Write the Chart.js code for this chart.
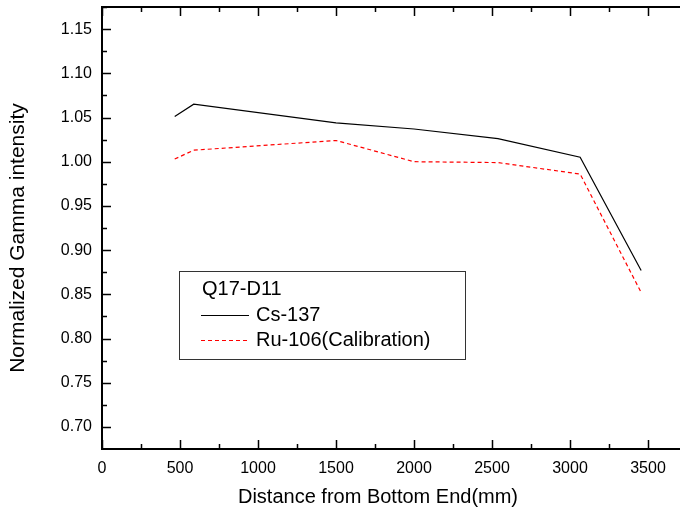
<!DOCTYPE html>
<html>
<head>
<meta charset="utf-8">
<script src="https://cdn.jsdelivr.net/npm/chart.js@4"></script>
<style>
  html, body { margin: 0; padding: 0; background: #fff; }
</style>
</head>
<body>
<canvas id="chart" width="680" height="512"></canvas>
<script>
// distance from bottom end (mm) and normalized intensities
var distance = [466, 588, 1500, 2000, 2538, 3065, 3456];
var cs137 = [1.051, 1.065, 1.044, 1.037, 1.026, 1.005, 0.877];
var ru106 = [1.003, 1.013, 1.024, 1.000, 0.999, 0.986, 0.852];
var xTicks = [0, 500, 1000, 1500, 2000, 2500, 3000, 3500];
var yTicks = [0.70, 0.75, 0.80, 0.85, 0.90, 0.95, 1.00, 1.05, 1.10, 1.15];
var legendTitle = 'Q17-D11';
var xTitle = 'Distance from Bottom End(mm)';
var yTitle = 'Normalized Gamma intensity';

var FONT = 'Liberation Sans, Arial, sans-serif';

function toPoints(xs, ys) {
    return xs.map(function(x, i) { return { x: x, y: ys[i] }; });
}

// inward tick marks on left, bottom and top + top frame line + axis titles
var axisTicks = {
    id: 'axisTicks',
    afterDraw: function(chart) {
        var ctx = chart.ctx, a = chart.chartArea;
        var xs = chart.scales.x, ys = chart.scales.y;
        ctx.save();
        ctx.strokeStyle = '#000';
        ctx.lineWidth = 2;
        ctx.beginPath();
        ctx.moveTo(a.left - 1, a.top);
        ctx.lineTo(a.right, a.top);
        ctx.stroke();
        ctx.lineWidth = 1.5;
        ctx.beginPath();
        xTicks.forEach(function(v) {
            var px = Math.round(xs.getPixelForValue(v)) + 0.5;
            ctx.moveTo(px, a.bottom); ctx.lineTo(px, a.bottom - 9);
            ctx.moveTo(px, a.top); ctx.lineTo(px, a.top + 9);
            var m = v + 250;
            if (m < xs.max) {
                var pm = Math.round(xs.getPixelForValue(m)) + 0.5;
                ctx.moveTo(pm, a.bottom); ctx.lineTo(pm, a.bottom - 5);
                ctx.moveTo(pm, a.top); ctx.lineTo(pm, a.top + 5);
            }
        });
        yTicks.forEach(function(v) {
            var py = Math.round(ys.getPixelForValue(v)) + 0.5;
            ctx.moveTo(a.left, py); ctx.lineTo(a.left + 9, py);
            var m = v + 0.025;
            if (m < ys.max) {
                var pm = Math.round(ys.getPixelForValue(m)) + 0.5;
                ctx.moveTo(a.left, pm); ctx.lineTo(a.left + 5, pm);
            }
        });
        ctx.stroke();

        ctx.fillStyle = '#000';
        ctx.textAlign = 'center';
        ctx.textBaseline = 'middle';
        ctx.font = '20px ' + FONT;
        ctx.fillText(xTitle, 378, 497);
        ctx.font = '21px ' + FONT;
        ctx.translate(18, 238);
        ctx.rotate(-Math.PI / 2);
        ctx.fillText(yTitle, 0, 0);
        ctx.restore();
    }
};

// boxed legend inside the plot
var boxLegend = {
    id: 'boxLegend',
    afterDraw: function(chart) {
        var ctx = chart.ctx;
        var bx = 179, by = 271, bw = 286, bh = 88;
        ctx.save();
        ctx.fillStyle = '#fff';
        ctx.fillRect(bx, by, bw, bh);
        ctx.strokeStyle = '#333';
        ctx.lineWidth = 1;
        ctx.strokeRect(bx + 0.5, by + 0.5, bw, bh);
        ctx.font = '20px ' + FONT;
        ctx.textBaseline = 'middle';
        ctx.fillStyle = '#000';
        ctx.fillText(legendTitle, 202, 289);
        chart.data.datasets.forEach(function(ds, i) {
            var y = 315 + i * 25;
            ctx.strokeStyle = ds.borderColor;
            ctx.lineWidth = ds.borderWidth;
            ctx.setLineDash(ds.borderDash || []);
            ctx.beginPath();
            ctx.moveTo(201, y + 0.5);
            ctx.lineTo(249, y + 0.5);
            ctx.stroke();
            ctx.setLineDash([]);
            ctx.fillStyle = '#000';
            ctx.fillText(ds.label, 256, y);
        });
        ctx.restore();
    }
};

function noPad(s) {
    s.paddingTop = 0; s.paddingBottom = 0;
    s.paddingLeft = 0; s.paddingRight = 0;
}

var ctx = document.getElementById('chart').getContext('2d');
var myChart = new Chart(ctx, {
    type: 'line',
    data: {
        datasets: [{
            label: 'Cs-137',
            data: toPoints(distance, cs137),
            borderColor: '#000000',
            borderWidth: 1.2,
            pointRadius: 0,
            tension: 0,
            fill: false
        }, {
            label: 'Ru-106(Calibration)',
            data: toPoints(distance, ru106),
            borderColor: '#ff0000',
            borderWidth: 1.2,
            borderDash: [4, 3],
            pointRadius: 0,
            tension: 0,
            fill: false
        }]
    },
    options: {
        responsive: false,
        animation: false,
        layout: { padding: { top: 7, right: 0, bottom: 0, left: 0 } },
        plugins: {
            legend: { display: false },
            tooltip: { enabled: false }
        },
        scales: {
            x: {
                type: 'linear',
                min: 0,
                max: 3705,
                afterBuildTicks: function(s) {
                    s.ticks = xTicks.map(function(v) { return { value: v }; });
                },
                afterFit: function(s) { s.height = 63; noPad(s); },
                grid: { display: false, drawTicks: false },
                border: { display: true, color: '#000', width: 2 },
                ticks: {
                    autoSkip: false,
                    maxRotation: 0,
                    padding: 10,
                    color: '#000',
                    font: { family: FONT, size: 16 },
                    callback: function(v) { return String(v); }
                },
                title: { display: false, text: xTitle }
            },
            y: {
                type: 'linear',
                min: 0.675,
                max: 1.175,
                afterBuildTicks: function(s) {
                    s.ticks = yTicks.map(function(v) { return { value: v }; });
                },
                afterFit: function(s) { s.width = 102; noPad(s); },
                grid: { display: false, drawTicks: false },
                border: { display: true, color: '#000', width: 2 },
                ticks: {
                    autoSkip: false,
                    padding: 10,
                    color: '#000',
                    font: { family: FONT, size: 16 },
                    callback: function(v) { return Number(v).toFixed(2); }
                },
                title: { display: false, text: yTitle }
            }
        }
    },
    plugins: [axisTicks, boxLegend]
});
</script>
</body>
</html>
